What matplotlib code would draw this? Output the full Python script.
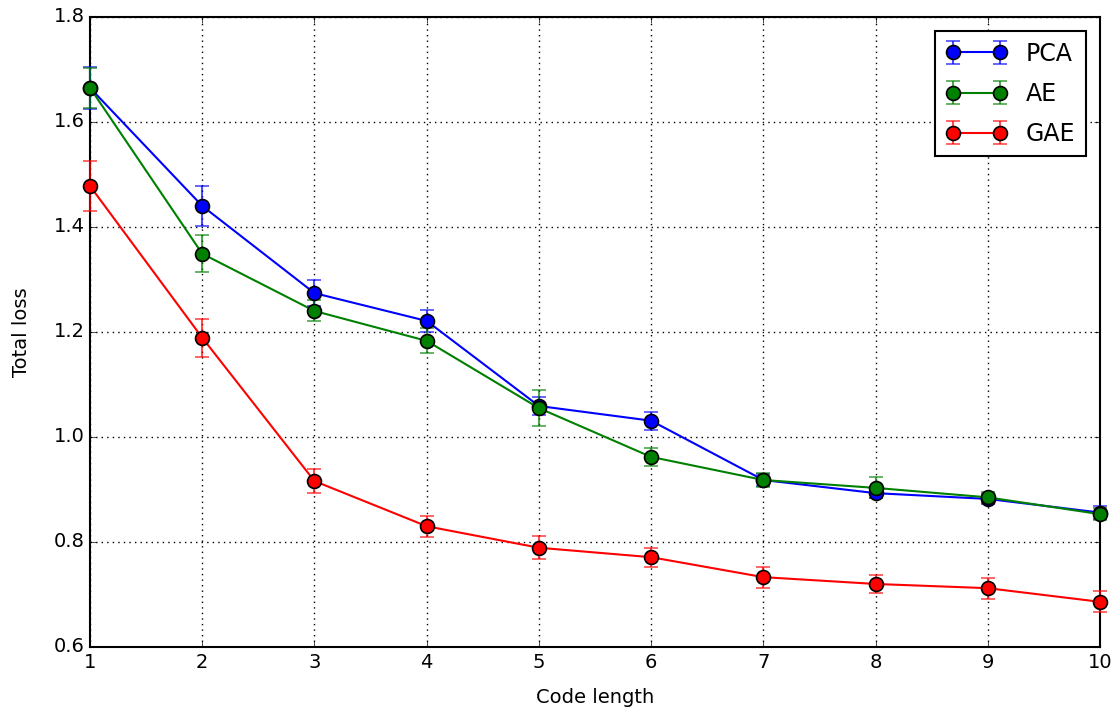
import numpy as np
import matplotlib
matplotlib.use("Agg")
import matplotlib.pyplot as plt
from matplotlib.colors import to_rgba

plt.style.use("classic")

code_length = [1, 2, 3, 4, 5, 6, 7, 8, 9, 10]

pca_mean = [1.665, 1.440, 1.274, 1.221, 1.059, 1.031, 0.918, 0.893, 0.882, 0.856]
pca_err = [0.040, 0.038, 0.025, 0.021, 0.017, 0.017, 0.012, 0.010, 0.010, 0.012]

ae_mean = [1.665, 1.349, 1.240, 1.183, 1.055, 0.962, 0.918, 0.903, 0.885, 0.853]
ae_err = [0.038, 0.035, 0.020, 0.024, 0.035, 0.017, 0.014, 0.020, 0.010, 0.012]

gae_mean = [1.478, 1.189, 0.916, 0.830, 0.789, 0.771, 0.733, 0.720, 0.712, 0.686]
gae_err = [0.047, 0.036, 0.023, 0.020, 0.022, 0.018, 0.020, 0.018, 0.020, 0.020]

fig = plt.figure(figsize=(11.17, 7.13), dpi=100, facecolor="white")
ax = fig.add_axes([0.0806, 0.0926, 0.9042, 0.8836])

for mean, err, col, lab in [(pca_mean, pca_err, "b", "PCA"),
                            (ae_mean, ae_err, "g", "AE"),
                            (gae_mean, gae_err, "r", "GAE")]:
    ax.errorbar(code_length, mean, yerr=err, color=col, ecolor=to_rgba(col, 0.7),
                marker="o", markersize=10, markeredgewidth=1.2, linewidth=1.5,
                elinewidth=1.5, capsize=5, capthick=1.5, label=lab,
                clip_on=False, zorder=3)

ax.set_xlim(1, 10)
ax.set_ylim(0.6, 1.8)
ax.set_xticks(code_length)
ax.set_yticks(np.arange(0.6, 1.81, 0.2))
ax.grid(True, color="k", linestyle=":", linewidth=1)
ax.set_xlabel("Code length", fontsize=14, labelpad=12)
ax.set_ylabel("Total loss", fontsize=14, labelpad=16)
ax.tick_params(labelsize=14)
for s in ax.spines.values():
    s.set_linewidth(1.5)
leg = ax.legend(loc="upper right", numpoints=2, fontsize=17, handlelength=2.6,
                labelspacing=0.68, borderpad=0.45, borderaxespad=0.6)
leg.get_frame().set_linewidth(1.5)

fig.savefig("out.png", dpi=100, facecolor="white")
